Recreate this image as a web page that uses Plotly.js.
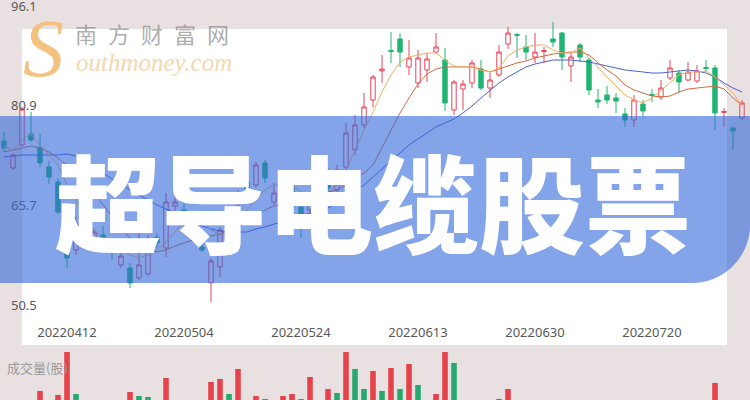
<!DOCTYPE html>
<html>
<head>
<meta charset="utf-8">
<script src="https://cdn.plot.ly/plotly-3.0.1.min.js"></script>
<style>
html,body{margin:0;padding:0;background:#e9e0e1;}
#chart{width:750px;height:400px;}
</style>
</head>
<body>
<div id="chart"></div>
<script>
// ---- data ----
const dates = [
'20220331','20220401','20220404','20220406','20220407','20220408','20220411','20220412','20220413','20220414',
'20220419','20220420','20220421','20220422','20220425','20220426','20220427','20220428','20220429','20220503',
'20220504','20220505','20220506','20220510','20220511','20220512','20220513','20220516','20220517','20220518',
'20220519','20220520','20220523','20220524','20220525','20220526','20220527','20220530','20220531','20220601',
'20220602','20220606','20220607','20220608','20220609','20220610','20220613','20220614','20220615','20220616',
'20220617','20220620','20220621','20220622','20220623','20220624','20220627','20220628','20220629','20220630',
'20220704','20220705','20220706','20220707','20220708','20220711','20220712','20220713','20220714','20220715',
'20220718','20220719','20220720','20220721','20220722','20220725','20220726','20220727','20220728','20220729',
'20220801','20220802','20220803'];

const openP = [
75.51,71.39,74.90,76.58,74.44,71.55,69.26,59.65,58.89,62.55,
59.80,61.18,59.04,56.60,56.14,54.62,55.23,60.87,59.19,65.60,
64.99,63.62,59.35,53.86,56.30,59.96,65.75,69.41,68.80,72.16,
66.21,66.51,70.63,65.45,64.99,66.51,70.78,68.04,71.55,74.14,
77.95,81.76,86.19,89.31,91.07,86.80,84.36,86.34,89.08,87.86,
80.24,83.44,84.36,86.49,83.59,85.58,90.30,91.75,89.85,88.32,
89.16,91.07,91.98,86.95,90.15,87.86,81.76,82.53,82.07,79.63,
78.71,81.15,82.60,82.22,85.12,85.88,84.81,84.66,86.72,86.64,
79.86,77.49,79.02];

const highP = [
76.88,73.68,80.70,79.93,76.58,72.46,69.87,59.96,63.92,63.46,
62.24,62.55,59.35,59.19,56.91,63.01,61.18,61.48,67.58,66.82,
65.90,64.23,61.18,57.67,62.40,62.24,68.04,70.02,72.31,72.61,
69.11,69.56,71.09,66.06,67.12,69.26,71.39,71.85,78.26,79.48,
82.83,85.58,88.63,92.13,91.98,90.91,89.39,88.93,91.98,89.69,
84.81,84.81,87.86,87.86,85.88,90.15,92.90,91.98,91.68,91.98,
89.85,93.66,92.13,88.93,90.46,88.17,83.44,83.90,82.83,80.54,
82.53,81.76,83.44,84.81,87.86,86.34,87.56,87.10,87.86,87.10,
80.54,77.65,81.76];

const lowP = [
73.83,71.09,74.60,75.36,71.55,68.95,64.38,56.14,58.13,59.50,
59.19,58.89,57.36,56.14,53.09,54.31,54.92,59.19,57.82,64.68,
62.24,61.94,58.58,50.96,54.77,59.50,64.99,67.28,68.34,69.11,
65.75,65.75,64.99,60.72,64.38,66.06,67.73,67.58,70.78,73.38,
77.49,80.70,84.36,87.41,86.80,85.58,83.59,84.51,88.93,80.09,
79.48,80.24,83.59,83.29,82.07,85.27,89.54,88.17,87.86,87.41,
87.41,89.85,86.34,84.51,87.56,82.53,80.54,81.15,79.78,77.65,
77.65,79.17,81.46,81.76,84.81,82.83,84.66,84.36,86.03,77.19,
77.65,74.14,78.71];

const closeP = [
74.44,73.38,80.39,75.66,72.16,70.02,64.68,57.67,62.85,60.41,
61.63,60.26,58.58,57.97,53.86,56.60,60.57,59.96,66.21,66.21,
62.70,63.01,58.89,57.21,61.94,61.63,67.28,68.04,71.85,69.87,
67.58,68.80,65.45,63.46,66.51,68.80,68.34,71.09,76.73,77.95,
80.70,85.27,86.49,89.16,89.08,88.17,88.17,88.02,89.85,81.31,
84.51,84.20,87.41,83.59,84.81,89.08,91.98,91.60,89.08,89.08,
89.31,90.61,88.32,88.32,88.32,83.29,81.46,81.76,81.61,78.71,
81.76,80.09,82.45,83.59,86.64,84.51,86.03,86.19,86.57,79.78,
80.01,77.04,81.31];

const ma5 = [
74.75,74.14,75.66,76.58,74.90,73.38,71.85,68.80,66.51,63.77,
61.94,60.72,59.80,59.19,58.13,57.67,58.13,58.89,60.11,61.63,
63.16,63.77,63.46,61.94,61.18,61.63,62.70,64.99,66.51,68.04,
68.80,68.80,68.80,67.73,66.97,66.82,67.73,68.80,71.09,74.14,
77.19,79.93,82.98,85.58,87.56,88.32,88.63,88.93,88.93,87.86,
86.95,86.80,86.80,86.34,86.03,86.64,88.47,89.39,89.85,90.15,
90.15,89.39,88.93,88.93,89.69,88.17,86.64,85.27,83.90,82.53,
81.76,81.31,82.07,83.29,84.51,85.58,86.03,86.03,86.19,85.27,
84.05,82.83,80.85];

const ma10 = [
73.83,74.14,74.44,74.75,74.44,73.83,72.92,71.85,70.63,69.26,
67.58,65.75,64.07,62.24,60.72,59.65,58.89,58.58,58.89,59.50,
59.96,60.41,60.72,61.02,61.33,61.78,62.24,63.16,64.23,64.99,
65.60,65.90,66.21,66.51,66.82,67.28,67.73,68.04,68.80,69.87,
70.63,71.85,74.44,77.19,79.78,82.07,84.20,85.73,86.49,86.80,
86.80,86.80,86.80,86.49,86.03,86.49,86.95,87.41,87.71,88.17,
88.47,88.78,88.93,89.08,89.08,88.63,87.41,86.34,85.42,84.05,
83.29,82.83,82.37,82.22,82.37,82.98,83.44,83.59,83.75,83.90,
83.44,82.07,81.00];

const ma20 = [
73.07,73.22,73.38,73.38,73.38,73.38,73.38,73.53,73.22,72.46,
71.55,70.63,69.72,68.95,68.04,67.28,66.51,65.75,65.14,64.53,
63.92,63.16,62.55,62.09,61.78,61.63,61.63,61.63,62.09,62.40,
62.85,63.16,63.62,64.07,64.53,64.99,65.29,66.06,66.97,67.89,
68.80,70.02,71.24,72.46,73.83,74.90,75.82,76.73,77.65,78.26,
78.87,79.78,80.85,82.07,83.29,84.36,85.27,86.03,86.80,87.25,
87.56,87.86,87.86,87.86,87.71,87.56,87.25,86.95,86.64,86.34,
86.19,86.03,85.88,85.88,86.03,86.19,86.34,86.19,85.88,85.27,
84.36,83.59,82.98];

// volume (万股)
const volume = [
230,250,280,210,413,240,363,950,375,190,
170,200,160,180,400,350,338,150,575,210,
260,180,220,525,563,375,688,240,350,313,
260,350,375,313,588,270,438,388,980,688,
438,663,413,700,438,750,488,280,375,1020,
763,260,290,270,240,313,438,220,180,200,
170,210,250,190,200,280,170,150,160,180,
230,160,140,190,220,200,170,180,130,513,
220,260,240];
const volumeUp = [
0,1,1,0,1,0,1,1,0,0,
1,0,0,1,1,0,0,0,1,1,
0,0,0,1,1,0,1,0,1,0,
1,1,1,0,1,1,1,0,1,0,
0,1,0,1,0,1,0,1,1,1,
0,1,1,0,1,1,1,0,0,1,
1,0,0,1,0,0,0,0,0,0,
1,0,0,1,1,0,1,1,0,1,
1,0,1];

const xTickLabels = ['20220412','20220504','20220524','20220613','20220630','20220720'];
const yTickValues = [50.5, 65.7, 80.9, 96.1];
const yTickLabels = ['50.5','65.7','80.9','96.1'];
const titleText = '超导电缆股票';
const volumeLabel = '成交量(股)';
const siteName = '南\u2002方\u2002财\u2002富\u2002网';
const siteUrl = 'outhmoney.com';

// ---- styles ----
const RED = '#e8465a';
const GREEN = '#20b473';
const VOL_RED = '#e6424b';
const VOL_GREEN = '#27a86d';

const traces = [
  {
    type: 'candlestick', x: dates, open: openP, high: highP, low: lowP, close: closeP,
    xaxis: 'x', yaxis: 'y',
    increasing: {line: {color: RED, width: 1}, fillcolor: 'rgba(255,255,255,0)'},
    decreasing: {line: {color: GREEN, width: 1}, fillcolor: GREEN},
    whiskerwidth: 0, hoverinfo: 'skip'
  },
  {type: 'scatter', mode: 'lines', x: dates, y: ma20, line: {color: '#4a62cc', width: 1}, hoverinfo: 'skip'},
  {type: 'scatter', mode: 'lines', x: dates, y: ma10, line: {color: '#d8683f', width: 1}, hoverinfo: 'skip'},
  {type: 'scatter', mode: 'lines', x: dates, y: ma5, line: {color: '#f2b062', width: 1}, hoverinfo: 'skip'},
  {
    type: 'bar', x: dates, y: volume, xaxis: 'x', yaxis: 'y2', width: 0.62,
    marker: {color: volumeUp.map(u => u ? VOL_RED : VOL_GREEN), line: {width: 0}},
    hoverinfo: 'skip'
  }
];

const W = 750, H = 400;
const px = v => v / W, py = v => 1 - v / H;
const bannerPath =
  'M 0 ' + py(116) + ' L 1 ' + py(116) + ' L 1 ' + py(225) +
  ' C 1 ' + py(257) + ' ' + px(724) + ' ' + py(283) + ' ' + px(692) + ' ' + py(283) +
  ' L 0 ' + py(283) + ' Z';

const layout = {
  width: W, height: H,
  margin: {l: 0, r: 0, t: 0, b: 0},
  paper_bgcolor: '#e9e0e1',
  plot_bgcolor: 'rgba(0,0,0,0)',
  showlegend: false,
  hovermode: false,
  xaxis: {
    type: 'category', range: [-0.444, 82.889], anchor: 'y',
    tickmode: 'array', tickvals: xTickLabels, ticktext: xTickLabels,
    showgrid: false, zeroline: false, showline: false, ticks: '',
    ticklabelstandoff: 3,
    tickfont: {family: 'Noto Sans, sans-serif', size: 13, color: '#595959'},
    rangeslider: {visible: false}, fixedrange: true
  },
  yaxis: {
    domain: [0.2, 1], range: [48.21, 97.015],
    tickmode: 'array', tickvals: yTickValues, ticktext: yTickLabels,
    ticklabelposition: 'inside', ticklabelstandoff: 8, ticklabeloverflow: 'allow',
    showgrid: false, zeroline: false, showline: false, ticks: '',
    tickfont: {family: 'Noto Sans, sans-serif', size: 13, color: '#595959'},
    fixedrange: true
  },
  yaxis2: {
    domain: [0, 0.12], range: [300, 900], anchor: 'x',
    showticklabels: false, showgrid: false, zeroline: false, showline: false, fixedrange: true
  },
  shapes: [
    {type: 'rect', xref: 'paper', yref: 'paper', x0: px(22), x1: px(727), y0: py(345), y1: py(29),
     fillcolor: '#ffffff', line: {width: 0}, layer: 'below'},
    {type: 'path', xref: 'paper', yref: 'paper', path: bannerPath,
     fillcolor: 'rgba(50,103,218,0.6)', line: {width: 0}, layer: 'above'}
  ],
  annotations: [
    {xref: 'paper', yref: 'paper', x: px(43), y: py(48), xanchor: 'center', yanchor: 'middle',
     text: '<i>S</i>', showarrow: false,
     font: {family: 'Liberation Serif, serif', size: 82, color: '#f3c27e'}},
    {xref: 'paper', yref: 'paper', x: px(152), y: py(33), xanchor: 'center', yanchor: 'middle',
     text: siteName, showarrow: false,
     font: {family: '"Noto Sans CJK SC", sans-serif', size: 22, color: 'rgba(120,120,120,0.62)'}},
    {xref: 'paper', yref: 'paper', x: px(154), y: py(63), xanchor: 'center', yanchor: 'middle',
     text: '<i>' + siteUrl + '</i>', showarrow: false,
     font: {family: 'Liberation Serif, serif', size: 25, color: '#f4d8ae'}},
    {xref: 'paper', yref: 'paper', x: px(373), y: py(199), xanchor: 'center', yanchor: 'middle',
     text: titleText, showarrow: false,
     font: {family: '"Noto Sans CJK SC", sans-serif', size: 106, color: '#ffffff', weight: 900}},
    {xref: 'paper', yref: 'paper', x: px(5), y: py(367), xanchor: 'left', yanchor: 'middle',
     text: volumeLabel, showarrow: false,
     font: {family: '"Noto Sans CJK SC", sans-serif', size: 13, color: '#9a9a9a'}}
  ]
};

Plotly.newPlot('chart', traces, layout, {staticPlot: true, displayModeBar: false});
</script>
</body>
</html>
